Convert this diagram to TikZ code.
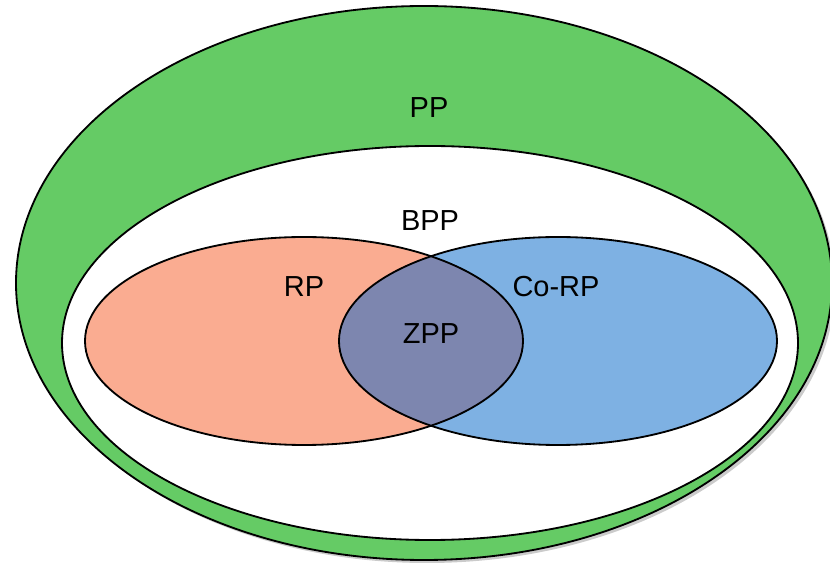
\documentclass[tikz,border=0pt]{standalone}
\usepackage{fontspec}
\setmainfont{Liberation Sans}
\usepackage{xcolor}
\definecolor{ppgreen}{RGB}{101,203,101}
\definecolor{rpsalmon}{RGB}{250,172,145}
\definecolor{corpblue}{RGB}{126,177,227}
\definecolor{zppslate}{RGB}{125,134,175}

\begin{document}
\begin{tikzpicture}[x=0.025cm, y=-0.025cm, set/.style={draw, line width=1.3pt}, lbl/.style={font=\fontsize{20.6}{24}\selectfont, inner sep=0pt}]
\useasboundingbox (0,0) rectangle (830,563);
\coordinate (pp) at (424,283);
\coordinate (bpp) at (430,343);
\coordinate (rp) at (304,341);
\coordinate (corp) at (558,341);
% outer class with a soft shadow
\fill[black!45, opacity=0.45] ([shift={(3,3)}]pp) ellipse [x radius=408, y radius=277];
\draw[set, fill=ppgreen] (pp) ellipse [x radius=408, y radius=277];
\draw[set, fill=white] (bpp) ellipse [x radius=368, y radius=197];
% the two one-sided classes
\fill[rpsalmon] (rp) ellipse [x radius=219, y radius=104];
\fill[corpblue] (corp) ellipse [x radius=219, y radius=104];
\begin{scope}
\clip (rp) ellipse [x radius=219, y radius=104];
\fill[zppslate] (corp) ellipse [x radius=219, y radius=104];
\end{scope}
\draw[set] (rp) ellipse [x radius=219, y radius=104];
\draw[set] (corp) ellipse [x radius=219, y radius=104];
% labels
\node[lbl] (pplbl) at (429,108) {PP};
\node[lbl] (bpplbl) at (430,221) {BPP};
\node[lbl] (rplbl) at (304,287) {RP};
\node[lbl] (corplbl) at (556,287) {Co-RP};
\node[lbl] (zpplbl) at (431,334) {ZPP};
\end{tikzpicture}
\end{document}
